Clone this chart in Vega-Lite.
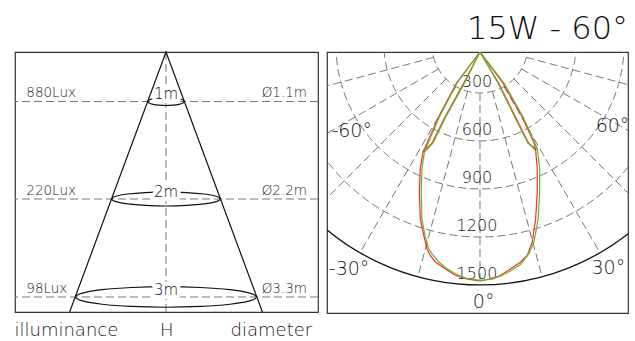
{
  "$schema": "https://vega.github.io/schema/vega-lite/v6.json",
  "background": "white",
  "padding": {"left": 13, "top": 12, "right": 0, "bottom": 0},
  "config": {"view": {"stroke": "#333333", "strokeWidth": 1.2}},
  "spacing": 9,
  "bounds": "flush",
  "datasets": {
    "levels": [
      {"H": "1m", "lux": "880Lux", "dia": "Ø1.1m", "y": 0.606},
      {"H": "2m", "lux": "220Lux", "dia": "Ø2.2m", "y": 1.8},
      {"H": "3m", "lux": "98Lux", "dia": "Ø3.3m", "y": 3.0}
    ],
    "axisH": [{"x": 0}],
    "ellipses": [
      {"e": 1, "k": 0, "x": 0.224, "y": 0.606}, {"e": 1, "k": 1, "x": 0.207, "y": 0.625}, {"e": 1, "k": 2, "x": 0.158, "y": 0.641}, {"e": 1, "k": 3, "x": 0.086, "y": 0.651},
      {"e": 1, "k": 4, "x": 0, "y": 0.655}, {"e": 1, "k": 5, "x": -0.086, "y": 0.651}, {"e": 1, "k": 6, "x": -0.158, "y": 0.641}, {"e": 1, "k": 7, "x": -0.207, "y": 0.625},
      {"e": 1, "k": 8, "x": -0.224, "y": 0.606}, {"e": 1, "k": 9, "x": -0.207, "y": 0.587}, {"e": 1, "k": 10, "x": -0.158, "y": 0.571}, {"e": 1, "k": 11, "x": -0.086, "y": 0.561},
      {"e": 1, "k": 12, "x": 0, "y": 0.557}, {"e": 1, "k": 13, "x": 0.086, "y": 0.561}, {"e": 1, "k": 14, "x": 0.158, "y": 0.571}, {"e": 1, "k": 15, "x": 0.207, "y": 0.587},
      {"e": 2, "k": 0, "x": 0.664, "y": 1.8}, {"e": 2, "k": 1, "x": 0.614, "y": 1.833}, {"e": 2, "k": 2, "x": 0.47, "y": 1.861}, {"e": 2, "k": 3, "x": 0.254, "y": 1.879},
      {"e": 2, "k": 4, "x": 0, "y": 1.886}, {"e": 2, "k": 5, "x": -0.254, "y": 1.879}, {"e": 2, "k": 6, "x": -0.47, "y": 1.861}, {"e": 2, "k": 7, "x": -0.614, "y": 1.833},
      {"e": 2, "k": 8, "x": -0.664, "y": 1.8}, {"e": 2, "k": 9, "x": -0.614, "y": 1.767}, {"e": 2, "k": 10, "x": -0.47, "y": 1.739}, {"e": 2, "k": 11, "x": -0.254, "y": 1.721},
      {"e": 2, "k": 12, "x": 0, "y": 1.714}, {"e": 2, "k": 13, "x": 0.254, "y": 1.721}, {"e": 2, "k": 14, "x": 0.47, "y": 1.739}, {"e": 2, "k": 15, "x": 0.614, "y": 1.767},
      {"e": 3, "k": 0, "x": 1.107, "y": 3.0}, {"e": 3, "k": 1, "x": 1.023, "y": 3.048}, {"e": 3, "k": 2, "x": 0.783, "y": 3.089}, {"e": 3, "k": 3, "x": 0.424, "y": 3.116},
      {"e": 3, "k": 4, "x": 0, "y": 3.126}, {"e": 3, "k": 5, "x": -0.424, "y": 3.116}, {"e": 3, "k": 6, "x": -0.783, "y": 3.089}, {"e": 3, "k": 7, "x": -1.023, "y": 3.048},
      {"e": 3, "k": 8, "x": -1.107, "y": 3.0}, {"e": 3, "k": 9, "x": -1.023, "y": 2.952}, {"e": 3, "k": 10, "x": -0.783, "y": 2.911}, {"e": 3, "k": 11, "x": -0.424, "y": 2.884},
      {"e": 3, "k": 12, "x": 0, "y": 2.874}, {"e": 3, "k": 13, "x": 0.424, "y": 2.884}, {"e": 3, "k": 14, "x": 0.783, "y": 2.911}, {"e": 3, "k": 15, "x": 1.023, "y": 2.952}
    ],
    "cone": [{"k": 0, "x": -1.18, "y": 3.184}, {"k": 1, "x": 0, "y": 0}, {"k": 2, "x": 1.18, "y": 3.184}],
    "footer": [{"t": "illuminance", "x": -1.22, "y": 3.477}, {"t": "H", "x": 0.01, "y": 3.477}, {"t": "diameter", "x": 1.29, "y": 3.477}],
    "rings": [{"v": 300}, {"v": 600}, {"v": 900}, {"v": 1200}],
    "outer": [{"v": 1500}],
    "radials": [
      {"x": 0, "y": 300, "x2": 0, "y2": 1500},
      {"x": 77.6, "y": 289.8, "x2": 388.2, "y2": 1448.9},
      {"x": -77.6, "y": 289.8, "x2": -388.2, "y2": 1448.9},
      {"x": 150, "y": 259.8, "x2": 750, "y2": 1299},
      {"x": -150, "y": 259.8, "x2": -750, "y2": 1299},
      {"x": 212.1, "y": 212.1, "x2": 1060.7, "y2": 1060.7},
      {"x": -212.1, "y": 212.1, "x2": -1060.7, "y2": 1060.7},
      {"x": 259.8, "y": 150, "x2": 1299, "y2": 750},
      {"x": -259.8, "y": 150, "x2": -1299, "y2": 750},
      {"x": 289.8, "y": 77.6, "x2": 1448.9, "y2": 388.2},
      {"x": -289.8, "y": 77.6, "x2": -1448.9, "y2": 388.2}
    ],
    "ilabels": [{"v": 300}, {"v": 600}, {"v": 900}, {"v": 1200}, {"v": 1500}],
    "alabels": [
      {"t": "-60°", "x": -802, "y": 575},
      {"t": "60°", "x": 828, "y": 544},
      {"t": "-30°", "x": -818, "y": 1438},
      {"t": "30°", "x": 802, "y": 1431},
      {"t": "0°", "x": 23, "y": 1644}
    ],
    "red": [
      {"seg": "m", "i": 0, "x": 0, "y": 44}, {"seg": "m", "i": 1, "x": -148, "y": 239}, {"seg": "m", "i": 2, "x": -258, "y": 448}, {"seg": "m", "i": 3, "x": -331, "y": 614},
      {"seg": "m", "i": 4, "x": -356, "y": 669}, {"seg": "m", "i": 5, "x": -373, "y": 773}, {"seg": "m", "i": 6, "x": -379, "y": 919}, {"seg": "m", "i": 7, "x": -373, "y": 1086},
      {"seg": "m", "i": 8, "x": -352, "y": 1189}, {"seg": "m", "i": 9, "x": -331, "y": 1273}, {"seg": "m", "i": 10, "x": -311, "y": 1314}, {"seg": "m", "i": 11, "x": -279, "y": 1356},
      {"seg": "m", "i": 12, "x": -217, "y": 1398}, {"seg": "m", "i": 13, "x": -154, "y": 1439}, {"seg": "m", "i": 14, "x": -92, "y": 1461}, {"seg": "m", "i": 15, "x": -29, "y": 1471},
      {"seg": "m", "i": 16, "x": 2, "y": 1475}, {"seg": "m", "i": 17, "x": 67, "y": 1461}, {"seg": "m", "i": 18, "x": 129, "y": 1439}, {"seg": "m", "i": 19, "x": 192, "y": 1398},
      {"seg": "m", "i": 20, "x": 254, "y": 1356}, {"seg": "m", "i": 21, "x": 296, "y": 1314}, {"seg": "m", "i": 22, "x": 327, "y": 1231}, {"seg": "m", "i": 23, "x": 348, "y": 1086},
      {"seg": "m", "i": 24, "x": 358, "y": 919}, {"seg": "m", "i": 25, "x": 358, "y": 773}, {"seg": "m", "i": 26, "x": 348, "y": 658}, {"seg": "m", "i": 27, "x": 339, "y": 614},
      {"seg": "m", "i": 28, "x": 263, "y": 448}, {"seg": "m", "i": 29, "x": 144, "y": 239}, {"seg": "m", "i": 30, "x": 0, "y": 44},
      {"seg": "n", "i": 0, "x": -356, "y": 669}, {"seg": "n", "i": 1, "x": -300, "y": 614}, {"seg": "n", "i": 2, "x": -217, "y": 448}, {"seg": "n", "i": 3, "x": -102, "y": 239},
      {"seg": "n", "i": 4, "x": 0, "y": 44}, {"seg": "n", "i": 5, "x": 117, "y": 239}, {"seg": "n", "i": 6, "x": 221, "y": 448}, {"seg": "n", "i": 7, "x": 304, "y": 614},
      {"seg": "n", "i": 8, "x": 348, "y": 658}
    ],
    "green": [
      {"seg": "m", "i": 0, "x": 0, "y": 44}, {"seg": "m", "i": 1, "x": -144, "y": 239}, {"seg": "m", "i": 2, "x": -253, "y": 448}, {"seg": "m", "i": 3, "x": -325, "y": 614},
      {"seg": "m", "i": 4, "x": -347, "y": 669}, {"seg": "m", "i": 5, "x": -363, "y": 773}, {"seg": "m", "i": 6, "x": -367, "y": 919}, {"seg": "m", "i": 7, "x": -363, "y": 1086},
      {"seg": "m", "i": 8, "x": -344, "y": 1189}, {"seg": "m", "i": 9, "x": -321, "y": 1273}, {"seg": "m", "i": 10, "x": -300, "y": 1304}, {"seg": "m", "i": 11, "x": -258, "y": 1356},
      {"seg": "m", "i": 12, "x": -206, "y": 1398}, {"seg": "m", "i": 13, "x": -144, "y": 1434}, {"seg": "m", "i": 14, "x": -81, "y": 1459}, {"seg": "m", "i": 15, "x": 0, "y": 1471},
      {"seg": "m", "i": 16, "x": 75, "y": 1463}, {"seg": "m", "i": 17, "x": 138, "y": 1441}, {"seg": "m", "i": 18, "x": 200, "y": 1406}, {"seg": "m", "i": 19, "x": 256, "y": 1369},
      {"seg": "m", "i": 20, "x": 306, "y": 1304}, {"seg": "m", "i": 21, "x": 338, "y": 1231}, {"seg": "m", "i": 22, "x": 364, "y": 1086}, {"seg": "m", "i": 23, "x": 373, "y": 919},
      {"seg": "m", "i": 24, "x": 373, "y": 773}, {"seg": "m", "i": 25, "x": 359, "y": 653}, {"seg": "m", "i": 26, "x": 344, "y": 614}, {"seg": "m", "i": 27, "x": 269, "y": 448},
      {"seg": "m", "i": 28, "x": 150, "y": 239}, {"seg": "m", "i": 29, "x": 0, "y": 44},
      {"seg": "n", "i": 0, "x": -347, "y": 669}, {"seg": "n", "i": 1, "x": -294, "y": 614}, {"seg": "n", "i": 2, "x": -213, "y": 448}, {"seg": "n", "i": 3, "x": -97, "y": 239},
      {"seg": "n", "i": 4, "x": 0, "y": 44}, {"seg": "n", "i": 5, "x": 113, "y": 239}, {"seg": "n", "i": 6, "x": 216, "y": 448}, {"seg": "n", "i": 7, "x": 300, "y": 614},
      {"seg": "n", "i": 8, "x": 359, "y": 653}
    ]
  },
  "hconcat": [
    {
      "width": 303,
      "height": 260,
      "layer": [
        {
          "data": {"name": "levels"},
          "mark": {"type": "rule", "color": "#777777", "strokeWidth": 1, "strokeDash": [8, 4]},
          "encoding": {
            "y": {"field": "y", "type": "quantitative", "scale": {"domain": [0, 3.184], "reverse": true, "nice": false, "zero": false}, "axis": null}
          }
        },
        {
          "data": {"name": "axisH"},
          "mark": {"type": "rule", "color": "#777777", "strokeWidth": 1, "strokeDash": [8, 4]},
          "encoding": {
            "x": {"field": "x", "type": "quantitative", "scale": {"domain": [-1.849, 1.861], "nice": false, "zero": false}, "axis": null}
          }
        },
        {
          "data": {"name": "ellipses"},
          "mark": {"type": "line", "interpolate": "cardinal-closed", "color": "#111111", "strokeWidth": 1.2},
          "encoding": {
            "x": {"field": "x", "type": "quantitative", "scale": {"domain": [-1.849, 1.861], "nice": false, "zero": false}, "axis": null},
            "y": {"field": "y", "type": "quantitative", "scale": {"domain": [0, 3.184], "reverse": true, "nice": false, "zero": false}, "axis": null},
            "detail": {"field": "e", "type": "nominal"},
            "order": {"field": "k", "type": "quantitative"}
          }
        },
        {
          "data": {"name": "levels"},
          "mark": {"type": "text", "font": "DejaVu Sans", "fontWeight": 200, "fontSize": 15, "align": "center", "baseline": "alphabetic", "dy": -2, "fill": "white", "stroke": "white", "strokeWidth": 8, "strokeJoin": "round"},
          "encoding": {
            "x": {"datum": 0, "type": "quantitative", "scale": {"domain": [-1.849, 1.861], "nice": false, "zero": false}, "axis": null},
            "y": {"field": "y", "type": "quantitative", "scale": {"domain": [0, 3.184], "reverse": true, "nice": false, "zero": false}, "axis": null},
            "text": {"field": "H"}
          }
        },
        {
          "data": {"name": "levels"},
          "mark": {"type": "text", "font": "DejaVu Sans", "fontWeight": 200, "fontSize": 15, "align": "center", "baseline": "alphabetic", "dy": -2, "color": "#111111"},
          "encoding": {
            "x": {"datum": 0, "type": "quantitative", "scale": {"domain": [-1.849, 1.861], "nice": false, "zero": false}, "axis": null},
            "y": {"field": "y", "type": "quantitative", "scale": {"domain": [0, 3.184], "reverse": true, "nice": false, "zero": false}, "axis": null},
            "text": {"field": "H"}
          }
        },
        {
          "data": {"name": "cone"},
          "mark": {"type": "line", "color": "#111111", "strokeWidth": 1.2},
          "encoding": {
            "x": {"field": "x", "type": "quantitative", "scale": {"domain": [-1.849, 1.861], "nice": false, "zero": false}, "axis": null},
            "y": {"field": "y", "type": "quantitative", "scale": {"domain": [0, 3.184], "reverse": true, "nice": false, "zero": false}, "axis": null},
            "order": {"field": "k", "type": "quantitative"}
          }
        },
        {
          "data": {"name": "levels"},
          "mark": {"type": "text", "font": "DejaVu Sans", "fontWeight": 200, "fontSize": 13.5, "align": "left", "baseline": "alphabetic", "dy": -4, "color": "#1a1a1a"},
          "encoding": {
            "x": {"datum": -1.71, "type": "quantitative", "scale": {"domain": [-1.849, 1.861], "nice": false, "zero": false}, "axis": null},
            "y": {"field": "y", "type": "quantitative", "scale": {"domain": [0, 3.184], "reverse": true, "nice": false, "zero": false}, "axis": null},
            "text": {"field": "lux"}
          }
        },
        {
          "data": {"name": "levels"},
          "mark": {"type": "text", "font": "DejaVu Sans", "fontWeight": 200, "fontSize": 13.5, "align": "right", "baseline": "alphabetic", "dy": -4, "color": "#1a1a1a"},
          "encoding": {
            "x": {"datum": 1.726, "type": "quantitative", "scale": {"domain": [-1.849, 1.861], "nice": false, "zero": false}, "axis": null},
            "y": {"field": "y", "type": "quantitative", "scale": {"domain": [0, 3.184], "reverse": true, "nice": false, "zero": false}, "axis": null},
            "text": {"field": "dia"}
          }
        },
        {
          "data": {"name": "footer"},
          "mark": {"type": "text", "font": "DejaVu Sans", "fontWeight": 200, "fontSize": 18, "align": "center", "baseline": "alphabetic", "color": "#1a1a1a"},
          "encoding": {
            "x": {"field": "x", "type": "quantitative", "scale": {"domain": [-1.849, 1.861], "nice": false, "zero": false}, "axis": null},
            "y": {"field": "y", "type": "quantitative", "scale": {"domain": [0, 3.184], "reverse": true, "nice": false, "zero": false}, "axis": null},
            "text": {"field": "t"}
          }
        }
      ]
    },
    {
      "width": 301,
      "height": 261,
      "title": {"text": "15W - 60°", "anchor": "end", "frame": "group", "font": "DejaVu Sans", "fontSize": 32, "fontWeight": 200, "color": "#111111", "offset": 6},
      "layer": [
        {
          "data": {"name": "rings"},
          "mark": {"type": "point", "shape": "circle", "filled": false, "opacity": 1, "stroke": "#777777", "strokeWidth": 1, "strokeDash": [8, 4], "clip": true},
          "encoding": {
            "x": {"datum": 0, "type": "quantitative", "scale": {"domain": [-956, 925], "nice": false, "zero": false}, "axis": null},
            "y": {"datum": 0, "type": "quantitative", "scale": {"domain": [44, 1675], "reverse": true, "nice": false, "zero": false}, "axis": null},
            "size": {"field": "v", "type": "quantitative", "scale": {"type": "pow", "exponent": 2, "domain": [0, 1500], "range": [0, 230400]}, "legend": null}
          }
        },
        {
          "data": {"name": "outer"},
          "mark": {"type": "point", "shape": "circle", "filled": false, "opacity": 1, "stroke": "#111111", "strokeWidth": 1.3, "clip": true},
          "encoding": {
            "x": {"datum": 0, "type": "quantitative", "scale": {"domain": [-956, 925], "nice": false, "zero": false}, "axis": null},
            "y": {"datum": 0, "type": "quantitative", "scale": {"domain": [44, 1675], "reverse": true, "nice": false, "zero": false}, "axis": null},
            "size": {"field": "v", "type": "quantitative", "scale": {"type": "pow", "exponent": 2, "domain": [0, 1500], "range": [0, 230400]}, "legend": null}
          }
        },
        {
          "data": {"name": "radials"},
          "mark": {"type": "rule", "color": "#777777", "strokeWidth": 1, "strokeDash": [8, 4], "clip": true},
          "encoding": {
            "x": {"field": "x", "type": "quantitative", "scale": {"domain": [-956, 925], "nice": false, "zero": false}, "axis": null},
            "y": {"field": "y", "type": "quantitative", "scale": {"domain": [44, 1675], "reverse": true, "nice": false, "zero": false}, "axis": null},
            "x2": {"field": "x2"},
            "y2": {"field": "y2"}
          }
        },
        {
          "data": {"name": "ilabels"},
          "mark": {"type": "text", "font": "DejaVu Sans", "fontWeight": 200, "fontSize": 16, "align": "center", "baseline": "alphabetic", "dx": -3, "dy": -6, "color": "#1a1a1a"},
          "encoding": {
            "x": {"datum": 0, "type": "quantitative", "scale": {"domain": [-956, 925], "nice": false, "zero": false}, "axis": null},
            "y": {"field": "v", "type": "quantitative", "scale": {"domain": [44, 1675], "reverse": true, "nice": false, "zero": false}, "axis": null},
            "text": {"field": "v"}
          }
        },
        {
          "data": {"name": "alabels"},
          "mark": {"type": "text", "font": "DejaVu Sans", "fontWeight": 200, "fontSize": 19, "align": "center", "baseline": "alphabetic", "color": "#1a1a1a"},
          "encoding": {
            "x": {"field": "x", "type": "quantitative", "scale": {"domain": [-956, 925], "nice": false, "zero": false}, "axis": null},
            "y": {"field": "y", "type": "quantitative", "scale": {"domain": [44, 1675], "reverse": true, "nice": false, "zero": false}, "axis": null},
            "text": {"field": "t"}
          }
        },
        {
          "data": {"name": "red"},
          "mark": {"type": "line", "color": "#ff2a2a", "strokeWidth": 1.2, "clip": true},
          "encoding": {
            "x": {"field": "x", "type": "quantitative", "scale": {"domain": [-956, 925], "nice": false, "zero": false}, "axis": null},
            "y": {"field": "y", "type": "quantitative", "scale": {"domain": [44, 1675], "reverse": true, "nice": false, "zero": false}, "axis": null},
            "detail": {"field": "seg", "type": "nominal"},
            "order": {"field": "i", "type": "quantitative"}
          }
        },
        {
          "data": {"name": "green"},
          "mark": {"type": "line", "color": "#64b432", "strokeWidth": 1.2, "clip": true},
          "encoding": {
            "x": {"field": "x", "type": "quantitative", "scale": {"domain": [-956, 925], "nice": false, "zero": false}, "axis": null},
            "y": {"field": "y", "type": "quantitative", "scale": {"domain": [44, 1675], "reverse": true, "nice": false, "zero": false}, "axis": null},
            "detail": {"field": "seg", "type": "nominal"},
            "order": {"field": "i", "type": "quantitative"}
          }
        }
      ]
    }
  ]
}
